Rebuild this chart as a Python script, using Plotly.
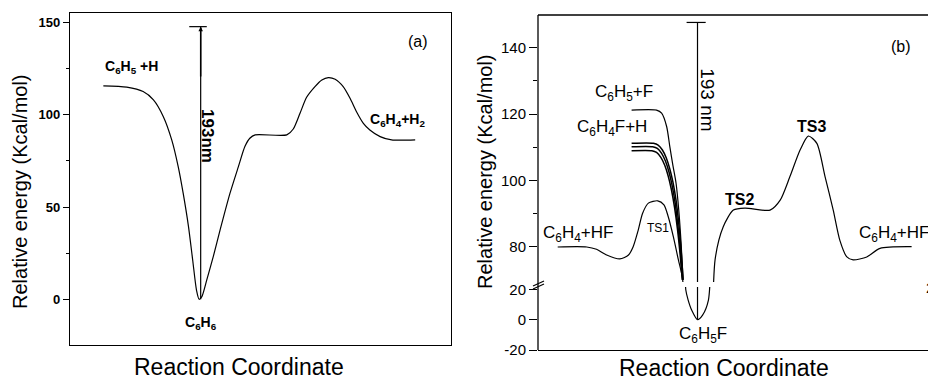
import plotly.graph_objects as go

# ---------------- data (reaction coordinate in arbitrary units 0-100) ----------------
# Panel (a): C6H6 potential energy profile
a_x = [8.75, 14.9, 19.2, 21.9, 24.5, 26.7, 28.4, 29.7, 31.1, 32.2, 33.2, 33.9, 34.6, 35.9,
       37.6, 39.4, 42.0, 44.2, 45.9, 47.2, 48.6, 56.9, 58.6, 60.4, 62.1, 64.3, 66.1, 67.8,
       69.6, 71.7, 73.5, 75.2, 77.0, 78.7, 81.4, 84.4, 90.6]
a_E = [115.7, 115.0, 112.6, 108.1, 99.0, 86.4, 71.9, 57.5, 39.4, 21.3, 5.0, 0.0, 1.4, 10.5,
       23.1, 37.6, 57.5, 71.9, 82.8, 87.3, 89.1, 89.1, 92.3, 101.0, 109.5, 115.3, 118.9, 120.2,
       119.3, 115.3, 109.0, 101.7, 95.4, 91.8, 88.2, 86.4, 86.4]
a_arrow_x = 34.3
a_arrow_E = [0.0, 147.8]
a_cap_x = [31.3, 35.9]

# Panel (b): C6H5F potential energy profile
b_x = [5.05, 12.5, 15.0, 17.6, 21.0, 23.2, 24.4, 25.7, 26.8, 28.3, 30.7, 32.3, 33.4, 34.7,
       36.0, 37.1, 37.9, 38.5, 39.4, 40.9, 42.2, 43.7, 45.4, 47.5, 50.1, 53.1, 59.5, 62.1,
       64.6, 67.2, 69.3, 71.5, 73.6, 75.7, 77.4, 79.2, 80.8, 84.3, 87.7, 95.8]
b_E = [80.0, 80.0, 79.3, 77.6, 76.4, 77.6, 80.1, 85.1, 90.1, 93.2, 93.9, 92.7, 89.1, 83.1,
       76.1, 70.1, 19.5, 12.9, 6.3, 0.0, 3.0, 12.9, 76.1, 86.1, 91.1, 91.7, 91.1, 94.1,
       101.2, 109.2, 113.4, 111.2, 101.2, 91.1, 82.0, 77.0, 76.1, 77.0, 79.6, 80.1]
f_x = [24.0, 30.4, 31.7, 33.0, 33.8, 34.6, 35.4, 36.1, 36.7, 37.2]
f_E = [121.2, 121.2, 120.3, 116.2, 110.2, 104.5, 99.2, 91.0, 81.0, 70.1]
h1_x = [24.0, 29.6, 30.8, 31.9, 32.9, 33.8, 34.6, 35.4, 36.1, 36.7, 37.2]
h1_E = [111.2, 111.2, 110.7, 109.2, 106.8, 103.5, 99.5, 94.0, 87.0, 79.0, 70.1]
h2_x = [24.0, 29.4, 30.6, 31.7, 32.7, 33.6, 34.4, 35.2, 35.9, 36.6, 37.1]
h2_E = [110.2, 110.2, 109.7, 108.2, 105.8, 102.5, 98.5, 93.0, 86.0, 78.0, 70.1]
h3_x = [24.0, 29.2, 30.4, 31.5, 32.5, 33.4, 34.2, 35.0, 35.8, 36.5, 37.0]
h3_E = [109.0, 109.0, 108.5, 107.0, 104.6, 101.3, 97.3, 92.0, 85.0, 77.0, 70.1]
b_arrow_x = 40.9
b_arrow_E = [0.0, 147.6]
b_cap_x = [38.1, 43.0]

a_ticks = [0, 50, 100, 150]
a_minor = [25, 75, 125]
b_up_ticks = [80, 100, 120, 140]
b_up_minor = [90, 110, 130]
b_lo_ticks = [-20, 0, 20]
b_lo_text = ["-20", "0", "20"]

# ---------------- layout helpers ----------------
W, H = 928, 382
FONT = "Liberation Sans, Arial, sans-serif"
def px(p):
    return p / W
def py(p):
    return 1 - p / H

LINE = dict(color="black", width=1.2)
SPL = dict(color="black", width=1.2, shape="spline", smoothing=0.7)

fig = go.Figure()

def add(x, y, xa, ya, line):
    fig.add_trace(go.Scatter(x=x, y=y, mode="lines", line=line, xaxis=xa, yaxis=ya,
                             showlegend=False, hoverinfo="skip"))

# panel a
add(a_x, a_E, "x", "y", SPL)
add([a_arrow_x, a_arrow_x], a_arrow_E, "x", "y", LINE)
add(a_cap_x, [a_arrow_E[1]] * 2, "x", "y", LINE)

# panel b (upper and lower parts of broken axis)
for ya in ("y2", "y3"):
    add(b_x, b_E, "x2", ya, SPL)
    add([b_arrow_x, b_arrow_x], b_arrow_E, "x2", ya, LINE)
add(f_x, f_E, "x2", "y2", SPL)
for hx, hE in ((h1_x, h1_E), (h2_x, h2_E), (h3_x, h3_E)):
    add(hx, hE, "x2", "y2", dict(color="black", width=1.5, shape="spline", smoothing=0.7))
add(b_cap_x, [b_arrow_E[1]] * 2, "x2", "y2", LINE)

ax_common = dict(showgrid=False, zeroline=False, color="black", automargin=False)

fig.update_layout(
    width=W, height=H, margin=dict(l=0, r=0, t=0, b=0, pad=0, autoexpand=False),
    paper_bgcolor="white", plot_bgcolor="white", hovermode=False, showlegend=False,
    font=dict(family=FONT, color="black"),
    xaxis=dict(domain=[px(70), px(451)], range=[0, 100], anchor="y", showline=True, mirror=True,
               linecolor="black", linewidth=1.3, showticklabels=False, ticks="", **ax_common),
    yaxis=dict(domain=[py(345), py(13)], range=[-24.8, 155.2], anchor="x", showline=True,
               mirror=True, linecolor="black", linewidth=1.3, tickvals=a_ticks, ticks="outside",
               ticklen=6, tickwidth=1.2, tickcolor="black",
               tickfont=dict(family=FONT, size=13, weight="bold", color="black"),
               minor=dict(tickvals=a_minor, ticks="outside", ticklen=3, tickcolor="black"),
               **ax_common),
    xaxis2=dict(domain=[px(538), 1.0], range=[0, 100], anchor="y3", showline=True,
                linecolor="black", linewidth=1.3, showticklabels=False, ticks="", **ax_common),
    yaxis2=dict(domain=[py(282), py(15)], range=[69.46, 149.84], anchor="x2", showline=False,
                tickvals=b_up_ticks, ticks="outside", ticklen=8, tickwidth=1.2, tickcolor="black",
                tickfont=dict(family=FONT, size=15, color="black"),
                minor=dict(tickvals=b_up_minor, ticks="outside", ticklen=4, tickcolor="black"),
                **ax_common),
    yaxis3=dict(domain=[py(350), py(287)], range=[-20, 21.5], anchor="x2", showline=False,
                tickvals=b_lo_ticks, ticktext=b_lo_text, ticks="outside", ticklen=8,
                tickwidth=1.2, tickcolor="black",
                tickfont=dict(family=FONT, size=15, color="black"), **ax_common),
)

# frame of panel b and axis break marks
shapes = [
    dict(type="line", xref="paper", yref="paper", x0=px(538), x1=px(538), y0=py(350), y1=py(15),
         line=dict(color="black", width=1.3)),
    dict(type="line", xref="paper", yref="paper", x0=px(538), x1=1.0, y0=py(15), y1=py(15),
         line=dict(color="black", width=1.3)),
    dict(type="line", xref="paper", yref="paper", x0=px(533), x1=px(544), y0=py(286), y1=py(281),
         line=dict(color="black", width=1.1)),
    dict(type="line", xref="paper", yref="paper", x0=px(533), x1=px(544), y0=py(289), y1=py(284),
         line=dict(color="black", width=1.1)),
]
fig.update_layout(shapes=shapes)

ann = []
def label(text, x, y, xref, yref, size, xanchor="left", yanchor="middle", angle=0):
    ann.append(dict(text=text, x=x, y=y, xref=xref, yref=yref, showarrow=False,
                    xanchor=xanchor, yanchor=yanchor, textangle=angle,
                    font=dict(family=FONT, size=size, color="black")))

# panel a labels
label("<b>C<sub>6</sub>H<sub>5</sub> +H</b>", 8.7, 126, "x", "y", 14)
label("<b>C<sub>6</sub>H<sub>4</sub>+H<sub>2</sub></b>", 78.2, 97, "x", "y", 14)
label("<b>C<sub>6</sub>H<sub>6</sub></b>", 34.4, -13, "x", "y", 14, xanchor="center")
label("<b>193nm</b>", 36.2, 88.5, "x", "y", 17, xanchor="center", angle=90)
label("(a)", 91.3, 139.5, "x", "y", 16, xanchor="center")

# panel b labels
label("C<sub>6</sub>H<sub>5</sub>+F", 14.1, 126.3, "x2", "y2", 17)
label("C<sub>6</sub>H<sub>4</sub>F+H", 9.5, 115.9, "x2", "y2", 17)
label("C<sub>6</sub>H<sub>4</sub>+HF", 0.8, 84.0, "x2", "y2", 17)
label("TS1", 27.4, 85.7, "x2", "y2", 12)
label("<b>TS2</b>", 47.4, 94.2, "x2", "y2", 16)
label("<b>TS3</b>", 65.9, 116.4, "x2", "y2", 16)
label("C<sub>6</sub>H<sub>4</sub>+HF", 81.8, 84.0, "x2", "y2", 17)
label("C<sub>6</sub>H<sub>5</sub>F", 35.6, -9.8, "x2", "y3", 17)
label("193 nm", 43.5, 124.3, "x2", "y2", 19, xanchor="center", angle=90)
label("(b)", 93.2, 140.3, "x2", "y2", 16, xanchor="center")

# axis titles
label("Relative energy (Kcal/mol)", px(20), py(192), "paper", "paper", 20, xanchor="center", angle=-90)
label("Reaction Coordinate", px(239), py(367), "paper", "paper", 23, xanchor="center")
label("Relative energy (Kcal/mol)", px(485), py(172), "paper", "paper", 20, xanchor="center", angle=-90)
label("Reaction Coordinate", px(724), py(368), "paper", "paper", 23, xanchor="center")
label("20", px(924), py(287), "paper", "paper", 15)

fig.update_layout(annotations=ann)

# arrow heads of the 193 nm arrows
fig.add_annotation(x=a_arrow_x, y=a_arrow_E[1], ax=a_arrow_x, ay=120, xref="x", yref="y",
                   axref="x", ayref="y", showarrow=True, arrowhead=2, arrowsize=0.6,
                   arrowwidth=1.5, arrowcolor="black", text="")
# panel b arrow: tail on the lower axis (E = 0), head on the upper axis -> continuous across break
fig.add_annotation(x=b_arrow_x, y=b_arrow_E[1], ax=b_arrow_x, ay=b_arrow_E[0], xref="x2", yref="y2",
                   axref="x2", ayref="y3", showarrow=True, arrowhead=2, arrowsize=0.6,
                   arrowwidth=1.5, arrowcolor="black", text="")

fig.write_html("out.html")
